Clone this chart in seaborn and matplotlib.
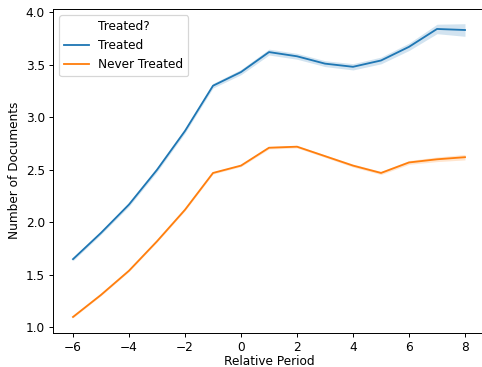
import numpy as np
import pandas as pd
import matplotlib
matplotlib.use("Agg")
import matplotlib.pyplot as plt
import seaborn as sns

periods = list(range(-6, 9))

treated_mean = [1.65, 1.90, 2.17, 2.50, 2.87, 3.30, 3.43, 3.62, 3.58, 3.51, 3.48, 3.54, 3.67, 3.84, 3.83]
treated_halfwidth = [0.015, 0.015, 0.018, 0.02, 0.02, 0.022, 0.025, 0.028, 0.028, 0.028, 0.03, 0.032, 0.035, 0.045, 0.06]

never_mean = [1.10, 1.31, 1.54, 1.82, 2.12, 2.47, 2.54, 2.71, 2.72, 2.63, 2.54, 2.47, 2.57, 2.60, 2.62]
never_halfwidth = [0.008, 0.008, 0.008, 0.008, 0.01, 0.01, 0.01, 0.012, 0.012, 0.012, 0.014, 0.015, 0.018, 0.022, 0.026]

groups = ["Treated", "Never Treated"]
palette = {"Treated": "#1f77b4", "Never Treated": "#ff7f0e"}

df = pd.DataFrame({
    "Relative Period": periods * 2,
    "Number of Documents": treated_mean + never_mean,
    "Treated?": ["Treated"] * len(periods) + ["Never Treated"] * len(periods),
})

W, H = 482, 367
dpi = 482 / 5.5
fig = plt.figure(figsize=(W / dpi, H / dpi), dpi=dpi)
ax = fig.add_axes([53.4 / W, (H - 332.5) / H, 431.2 / W, 323.5 / H])

sns.lineplot(data=df, x="Relative Period", y="Number of Documents",
             hue="Treated?", hue_order=groups, palette=palette,
             errorbar=None, ax=ax)

for name, mean, hw in [("Treated", treated_mean, treated_halfwidth),
                       ("Never Treated", never_mean, never_halfwidth)]:
    m = np.array(mean)
    h = np.array(hw)
    ax.fill_between(periods, m - h, m + h, color=palette[name], alpha=0.2, linewidth=0)

ax.set_xticks([-6, -4, -2, 0, 2, 4, 6, 8])
ax.set_yticks([1.0, 1.5, 2.0, 2.5, 3.0, 3.5, 4.0])
ax.set_xlabel("Relative Period", labelpad=0.5)
ax.legend(title="Treated?", loc="upper left")

fig.savefig("out.png", dpi=dpi)
